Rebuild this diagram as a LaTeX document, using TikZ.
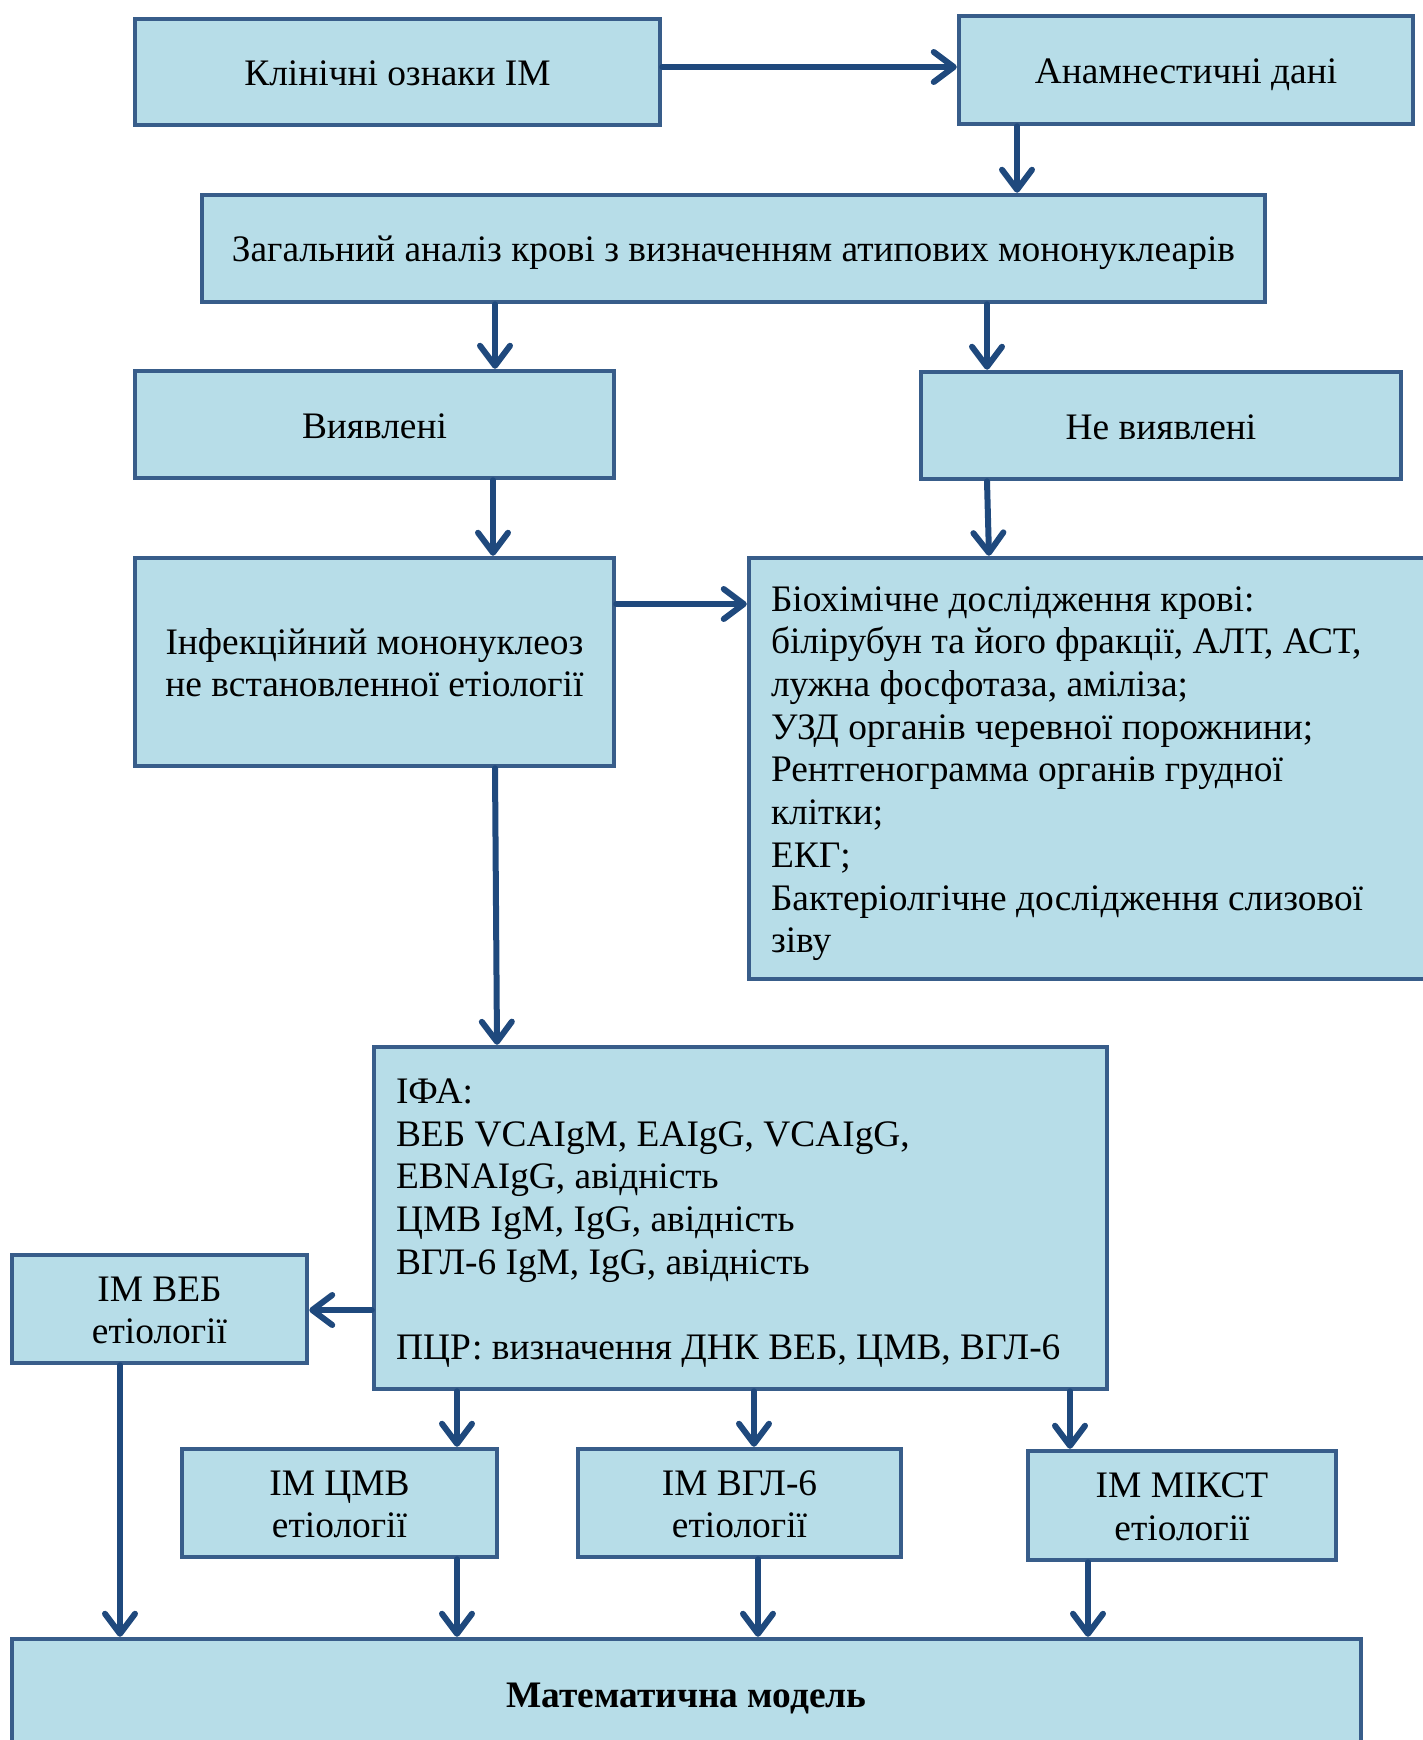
\documentclass[tikz,border=0pt]{standalone}
\usepackage{fontspec}
\setmainfont{Liberation Serif}
\usetikzlibrary{arrows.meta}
\definecolor{boxfill}{HTML}{B7DDE8}
\definecolor{boxline}{HTML}{385D8A}
\definecolor{arrowc}{HTML}{1F497D}
\begin{document}
\begin{tikzpicture}[x=1pt,y=-1pt,
  every node/.style={font=\fontsize{37.4}{42.7}\selectfont},
  box/.style={draw=boxline, fill=boxfill, line width=4.5pt, rectangle, inner sep=0pt, align=flush center,
    execute at begin node={\vrule width0pt height35pt depth0pt\relax},
    execute at end node={\vrule width0pt height0pt depth8pt\relax}},
  leftbox/.style={box, align=flush left, inner xsep=22pt},
  arr/.style={draw=arrowc, line width=6pt, line cap=round,
    -{Straight Barb[length=20pt, width=30pt, line cap=round, line join=round]}}
]
\useasboundingbox (0,0) rectangle (1423,1740);
\clip (0,0) rectangle (1423,1740);
\fill[white] (0,0) rectangle (1423,1740);

\node[box, text width=525pt, minimum height=106pt] (b1) at (397.5,72) {Клінічні ознаки ІМ};
\node[box, text width=454pt, minimum height=108pt] (b2) at (1186,70) {Анамнестичні дані};
\node[box, text width=1063pt, minimum height=107pt] (b3) at (733.5,248.5) {Загальний аналіз крові з визначенням атипових мононуклеарів};
\node[box, text width=479pt, minimum height=107pt] (b4) at (374.5,424.5) {Виявлені};
\node[box, text width=480pt, minimum height=107pt] (b5) at (1161,425.5) {Не виявлені};
\node[box, text width=479pt, minimum height=208pt] (b6) at (374.5,662) {Інфекційний мононуклеоз\\не встановленної етіології};
\node[leftbox, text width=647pt, minimum height=421pt] (b7) at (1094.5,768.5) {Біохімічне дослідження крові:\\
білірубун та його фракції, АЛТ, АСТ,\\
лужна фосфотаза, аміліза;\\
УЗД органів черевної порожнини;\\
Рентгенограмма органів грудної\\
клітки;\\
ЕКГ;\\
Бактеріолгічне дослідження слизової\\
зіву};
\node[leftbox, text width=689pt, minimum height=342pt] (b8) at (740.5,1218) {ІФА:\\
ВЕБ VCAIgM, EAIgG, VCAIgG,\\
EBNAIgG, авідність\\
ЦМВ IgM, IgG, авідність\\
ВГЛ-6 IgM, IgG, авідність\\[42.7pt]
ПЦР: визначення ДНК ВЕБ, ЦМВ, ВГЛ-6};
\node[box, text width=295pt, minimum height=108pt] (b9) at (159.5,1309) {ІМ ВЕБ\\етіології};
\node[box, text width=315pt, minimum height=108pt] (b10) at (339.5,1503) {ІМ ЦМВ\\етіології};
\node[box, text width=323pt, minimum height=108pt] (b11) at (739.5,1503) {ІМ ВГЛ-6\\етіології};
\node[box, text width=308pt, minimum height=109pt] (b12) at (1182,1505.5) {ІМ МІКСТ\\етіології};
\node[box, text width=1349pt, minimum height=109pt, font=\fontsize{37.4}{42.7}\selectfont\bfseries] (b13) at (686.5,1693.5) {Математична модель};

\draw[arr] (b1.east |- 0,67) -- (b2.west |- 0,67);
\draw[arr] (b2.south -| 1017,0) -- (b3.north -| 1017,0);
\draw[arr] (b3.south -| 495,0) -- (b4.north -| 495,0);
\draw[arr] (b3.south -| 987,0) -- (b5.north -| 987,0);
\draw[arr] (b4.south -| 493,0) -- (b6.north -| 493,0);
\draw[arr] (b5.south -| 987,0) -- (b7.north -| 989,0);
\draw[arr] (b6.east |- 0,604) -- (b7.west |- 0,604);
\draw[arr] (b6.south -| 495,0) -- (b8.north -| 497,0);
\draw[arr] (b8.west |- 0,1310) -- (b9.east |- 0,1310);
\draw[arr] (b8.south -| 457,0) -- (b10.north -| 457,0);
\draw[arr] (b8.south -| 754,0) -- (b11.north -| 754,0);
\draw[arr] (b8.south -| 1070,0) -- (b12.north -| 1070,0);
\draw[arr] (b9.south -| 120,0) -- (b13.north -| 120,0);
\draw[arr] (b10.south -| 457,0) -- (b13.north -| 457,0);
\draw[arr] (b11.south -| 758,0) -- (b13.north -| 758,0);
\draw[arr] (b12.south -| 1088,0) -- (b13.north -| 1088,0);
\end{tikzpicture}
\end{document}
